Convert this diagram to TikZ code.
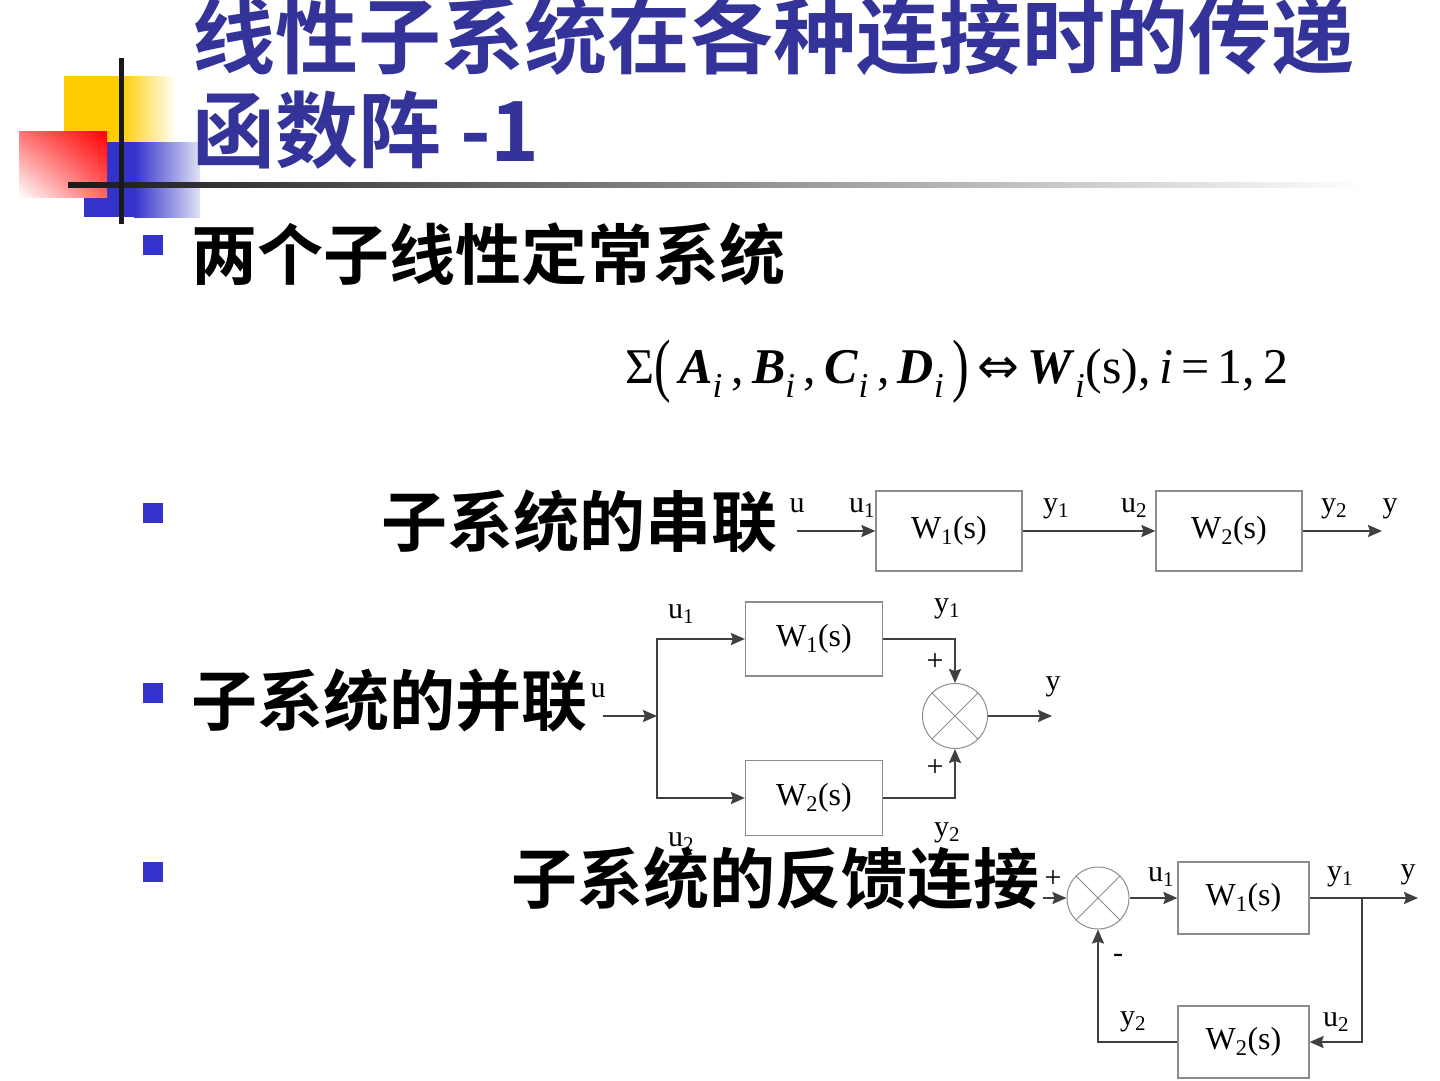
\documentclass[tikz,border=0pt]{standalone}
\usepackage{fontspec}
\usepackage{graphicx}
\usetikzlibrary{arrows.meta,shadings}
\setmainfont{Liberation Serif}
\newfontfamily\cjkb{Noto Sans CJK SC Bold}
\newfontfamily\dvs{DejaVu Sans}
\definecolor{ttl}{HTML}{333399}
\definecolor{bul}{HTML}{3333CC}
\definecolor{ln}{HTML}{404040}
\definecolor{bx}{HTML}{8C8C8C}
\definecolor{yel}{HTML}{FFCC00}
\newcommand{\sbs}[1]{\textsubscript{#1}}
\begin{document}
\begin{tikzpicture}[x=1pt,y=-1pt,
  title/.style={font=\cjkb\fontsize{83}{90}\selectfont, text=ttl, inner sep=0, anchor=base west},
  btxt/.style={font=\cjkb\fontsize{66}{72}\selectfont, text=black, inner sep=0, anchor=base west},
  bsq/.style={rectangle, fill=bul, minimum size=20pt, inner sep=0},
  blk/.style={rectangle, draw=bx, line width=1.2pt, inner sep=0, font=\fontsize{32}{36}\selectfont},
  sumc/.style={circle, draw=bx, line width=1pt, inner sep=0},
  conn/.style={draw=ln, line width=2.2pt, -{Stealth[length=14pt,width=12pt,inset=2pt]}},
  lbl/.style={font=\fontsize{30}{34}\selectfont, inner sep=0, anchor=base, text=black}
]
\useasboundingbox (0,0) rectangle (1440,1080);
% --- decoration ---
\fill[yel] (64,76) rectangle (121,142);
\shade[left color=yel, right color=white] (120,76) rectangle (176,142);
\fill[bul] (84,142) rectangle (135,217);
\shade[left color=bul, right color=bul!15] (134,142) rectangle (200,217);
\shade[upper right=red, upper left=red!55, lower right=red!60, lower left=white] (19,131) rectangle (107,197);
\shade[left color=black!90, right color=white] (68,182.5) rectangle (1365,187.5);
\fill[black!90] (118.5,58) rectangle (123.5,224);
% --- title ---
\node[title] (t1) at (192,67) {线性子系统在各种连接时的传递};
\node[title] (t2) at (192,161) {函数阵 -1};
% --- bullets ---
\node[bsq] (q1) at (153,245) {};
\node[bsq] (q2) at (153,513) {};
\node[bsq] (q3) at (153,693) {};
\node[bsq] (q4) at (153,872) {};
\node[btxt] (b1) at (191,279) {两个子线性定常系统};
\node[btxt] (b2) at (381,546) {子系统的串联};
\node[btxt] (b3) at (191,725) {子系统的并联};
\node[btxt] (b4) at (511,903) {子系统的反馈连接};
% --- formula ---
\node[anchor=base west, inner sep=0, font=\fontsize{50}{56}\selectfont] (eq) at (625,383)
  {Σ\raisebox{-5pt}{\scalebox{1}[1.4]{(}}\,\textbf{\textit{A}}\sbs{\textit{i}}\,,\,\textbf{\textit{B}}\sbs{\textit{i}}\,,\,\textbf{\textit{C}}\sbs{\textit{i}}\,,\,\textbf{\textit{D}}\sbs{\textit{i}}\,\raisebox{-5pt}{\scalebox{1}[1.4]{)}}\,{\dvs ⇔}\,\textbf{\textit{W}}\sbs{\textit{i}}(s),\,\textit{i}\,=\,1,\,2};
% --- series ---
\node[blk, minimum width=146pt, minimum height=80pt] (s1) at (949,531) {W\sbs{1}(s)};
\node[blk, minimum width=146pt, minimum height=80pt] (s2) at (1229,531) {W\sbs{2}(s)};
\coordinate (sin) at (797,531);
\coordinate (sout) at (1382,531);
\draw[conn] (sin) -- (s1.west);
\draw[conn] (s1.east) -- (s2.west);
\draw[conn] (s2.east) -- (sout);
\node[lbl] (ls1) at (797,512) {u};
\node[lbl] (ls2) at (862,512) {u\sbs{1}};
\node[lbl] (ls3) at (1056,512) {y\sbs{1}};
\node[lbl] (ls4) at (1134,512) {u\sbs{2}};
\node[lbl] (ls5) at (1334,512) {y\sbs{2}};
\node[lbl] (ls6) at (1390,512) {y};
% --- parallel ---
\node[blk, minimum width=137pt, minimum height=74pt] (p1) at (814,639) {W\sbs{1}(s)};
\node[blk, minimum width=137pt, minimum height=75pt] (p2) at (814,798) {W\sbs{2}(s)};
\node[sumc, minimum size=65pt] (ps) at (955,716) {};
\draw[bx, line width=0.8pt] (ps.45) -- (ps.225) (ps.135) -- (ps.315);
\coordinate (pin) at (603,716);
\coordinate (pb) at (657,716);
\coordinate (pout) at (1052,716);
\draw[conn] (pin) -- (pb);
\draw[conn] (pb) |- (p1.west);
\draw[conn] (pb) |- (p2.west);
\draw[conn] (p1.east) -| (ps.north);
\draw[conn] (p2.east) -| (ps.south);
\draw[conn] (ps.east) -- (pout);
\node[lbl] (lp1) at (598,697) {u};
\node[lbl] (lp2) at (681,618) {u\sbs{1}};
\node[lbl] (lp3) at (947,612) {y\sbs{1}};
\node[lbl] (lp4) at (935,670) {+};
\node[lbl] (lp5) at (935,776) {+};
\node[lbl] (lp6) at (1053,690) {y};
\node[lbl] (lp7) at (681,846) {u\sbs{2}};
\node[lbl] (lp8) at (947,836) {y\sbs{2}};
% --- feedback ---
\node[sumc, minimum size=62pt] (fs) at (1098,898) {};
\draw[bx, line width=0.8pt] (fs.45) -- (fs.225) (fs.135) -- (fs.315);
\node[blk, minimum width=131pt, minimum height=72pt] (f1) at (1243.5,898) {W\sbs{1}(s)};
\node[blk, minimum width=131pt, minimum height=72pt] (f2) at (1243.5,1042) {W\sbs{2}(s)};
\coordinate (fin) at (1043,898);
\coordinate (fb) at (1362,898);
\coordinate (fout) at (1418,898);
\draw[conn] (fin) -- (fs.west);
\draw[conn] (fs.east) -- (f1.west);
\draw[conn] (f1.east) -- (fout);
\draw[conn] (fb) |- (f2.east);
\draw[conn] (f2.west) -| (fs.south);
\node[lbl] (lf1) at (1053,887) {+};
\node[lbl] (lf2) at (1161,881) {u\sbs{1}};
\node[lbl] (lf3) at (1340,880) {y\sbs{1}};
\node[lbl] (lf4) at (1408,878) {y};
\node[lbl] (lf5) at (1118,962) {-};
\node[lbl] (lf6) at (1133,1025) {y\sbs{2}};
\node[lbl] (lf7) at (1336,1026) {u\sbs{2}};
\end{tikzpicture}
\end{document}
